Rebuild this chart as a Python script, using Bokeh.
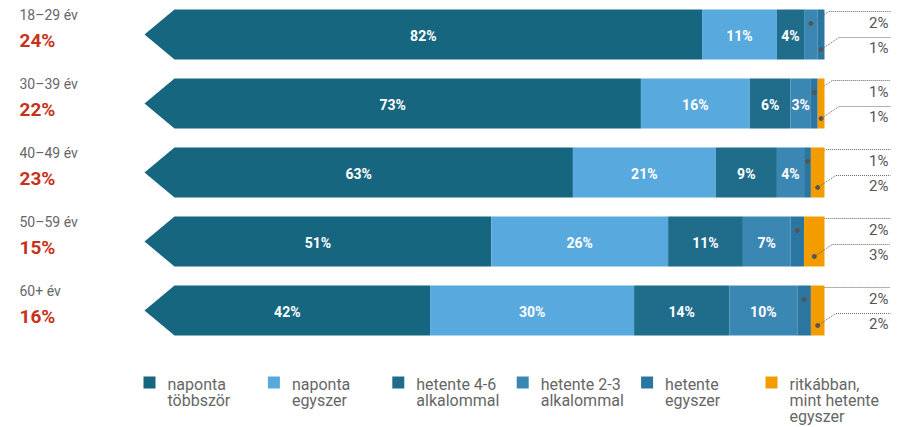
from bokeh.plotting import figure
from bokeh.models import Range1d
from bokeh.core.properties import value
from bokeh.embed import file_html
from bokeh.resources import INLINE

# ---------------- data ----------------
groups = ["18–29 év", "30–39 év", "40–49 év", "50–59 év", "60+ év"]
group_share = ["24%", "22%", "23%", "15%", "16%"]
series = ["naponta\ntöbbször", "naponta\negyszer", "hetente 4-6\nalkalommal",
          "hetente 2-3\nalkalommal", "hetente\negyszer", "ritkábban,\nmint hetente\negyszer"]
naponta_tobbszor = [82, 73, 63, 51, 42]
naponta_egyszer = [11, 16, 21, 26, 30]
hetente_4_6 = [4, 6, 9, 11, 14]
hetente_2_3 = [2, 3, 4, 7, 10]
hetente_egyszer = [1, 1, 1, 2, 2]
ritkabban = [0, 1, 2, 3, 2]
colors = ["#17667f", "#57a9de", "#1f6d8b", "#3b87b4", "#2a76a0", "#f39c00"]

values = [naponta_tobbszor, naponta_egyszer, hetente_4_6, hetente_2_3, hetente_egyszer, ritkabban]

# ---------------- layout ----------------
W, H = 908, 427
PX = 6.8                    # px per percent
X0 = 144                    # px of 0 %
def ux(px):                 # px -> data units (x)
    return px / PX

p = figure(width=W, height=H, output_backend="svg", toolbar_location=None,
           x_range=Range1d(-X0 / PX, (W - X0) / PX), y_range=Range1d(H, 0),
           min_border=0)
p.xaxis.visible = False
p.yaxis.visible = False
p.grid.visible = False
p.outline_line_color = None
p.background_fill_color = "white"
p.border_fill_color = "white"

ROW0, ROWSTEP, HALF = 34, 69, 25
TIP = ux(30)
FONT = value("Roboto")

for i in range(len(groups)):
    yc = ROW0 + ROWSTEP * i
    top, bot = yc - HALF, yc + HALF
    row = [v[i] for v in values]
    nonzero = [k for k, v in enumerate(row) if v > 0]
    outside = nonzero[-2:]
    cum = 0
    for k, v in enumerate(row):
        if v <= 0:
            continue
        left, right = cum, cum + v
        if k == 0:
            p.patch([0, TIP, right, right, TIP], [yc, top, top, bot, bot],
                    fill_color=colors[k], line_color=None)
            cx = right / 2
        else:
            p.quad(left=left, right=right, top=top, bottom=bot,
                   fill_color=colors[k], line_color=None)
            cx = (left + right) / 2
        if k not in outside:
            p.text([cx], [yc + 1], text=[f"{v}%"], text_color="white",
                   text_font=FONT, text_font_size="14px", text_font_style="bold",
                   text_align="center", text_baseline="middle")
        else:
            upper = (k == outside[0]) and len(outside) == 2
            if upper:
                dy, ly, ty = yc - 11, yc - 23, yc - 12
            else:
                dy, ly, ty = yc + 15, yc + 3, yc + 13
            cxr = cx + ux(18)
            xe = ux(890 - X0)
            p.line([cx, cxr, xe], [dy, ly, ly], line_color="#666666",
                   line_width=1, line_dash="1 1")
            p.scatter([cx], [dy], size=4, color="#555555")
            p.text([ux(888 - X0)], [ty], text=[f"{v}%"], text_color="#555555",
                   text_font=FONT, text_font_size="15px",
                   text_align="right", text_baseline="middle")
        cum = right

    p.text([ux(19 - X0)], [yc - 20], text=[groups[i]], text_color="#666666",
           text_font=FONT, text_font_size="14px", text_baseline="middle")
    p.text([ux(19 - X0)], [yc + 6], text=[group_share[i]], text_color="#c8321a",
           text_font=FONT, text_font_size="19px", text_font_style="bold",
           text_baseline="middle")

# legend
LSTEP = 124.4
for k, name in enumerate(series):
    lx = 143 + LSTEP * k - X0
    p.quad(left=ux(lx), right=ux(lx + 12), top=376, bottom=388,
           fill_color=colors[k], line_color=None)
    p.text([ux(lx + 24)], [374], text=[name], text_color="#666666",
           text_font=FONT, text_font_size="16px", text_baseline="top",
           text_line_height=0.85)

open("out.html", "w").write(file_html(p, INLINE))
